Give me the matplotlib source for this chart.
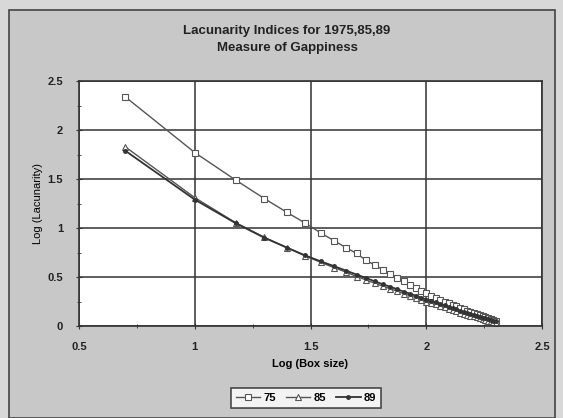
import numpy as np
import matplotlib
matplotlib.use("Agg")
import matplotlib.pyplot as plt
from matplotlib.patches import Rectangle
from matplotlib.ticker import MultipleLocator

plt.rcParams['font.family'] = ['Liberation Sans', 'DejaVu Sans']

# box sizes (pixels) and log lacunarity
box_sizes = [5, 10, 15, 20, 25, 30, 35, 40, 45, 50,
             55, 60, 65, 70, 75, 80, 85, 90, 95, 100,
             105, 110, 115, 120, 125, 130, 135, 140, 145, 150,
             155, 160, 165, 170, 175, 180, 185, 190, 195, 200]

lac_75 = [2.34, 1.77, 1.49, 1.30, 1.16, 1.05, 0.95, 0.87, 0.80, 0.74,
          0.67, 0.62, 0.575, 0.53, 0.49, 0.455, 0.42, 0.39, 0.36, 0.335,
          0.31, 0.29, 0.27, 0.25, 0.232, 0.215, 0.199, 0.184, 0.17, 0.156,
          0.143, 0.131, 0.119, 0.108, 0.097, 0.087, 0.077, 0.068, 0.059, 0.05]

lac_85 = [1.83, 1.31, 1.055, 0.905, 0.80, 0.715, 0.65, 0.595, 0.55, 0.505,
          0.47, 0.435, 0.405, 0.38, 0.355, 0.33, 0.31, 0.29, 0.27, 0.25,
          0.235, 0.22, 0.205, 0.19, 0.175, 0.16, 0.15, 0.137, 0.126, 0.116,
          0.106, 0.097, 0.088, 0.079, 0.07, 0.062, 0.054, 0.046, 0.039, 0.032]

lac_89 = [1.79, 1.29, 1.05, 0.90, 0.80, 0.72, 0.66, 0.61, 0.565, 0.525,
          0.49, 0.455, 0.425, 0.40, 0.375, 0.35, 0.33, 0.31, 0.29, 0.27,
          0.255, 0.24, 0.225, 0.21, 0.195, 0.18, 0.17, 0.155, 0.145, 0.135,
          0.125, 0.115, 0.105, 0.095, 0.085, 0.077, 0.069, 0.061, 0.054, 0.047]

series_names = ["75", "85", "89"]

W, H = 563, 418
fig = plt.figure(figsize=(W / 100, H / 100), dpi=100)
fig.patch.set_facecolor("#d8d8d8")

# grey chart area with a thin frame, like the old spreadsheet chart
fig.patches.append(Rectangle((9 / W, 0), 546 / W, 1 - 10 / H,
                             transform=fig.transFigure, facecolor="#c8c8c8",
                             edgecolor="#444444", lw=1.2, zorder=-5))

ax = fig.add_axes([79 / W, 1 - 326 / H, 463 / W, 245 / H])
ax.set_zorder(2)
ax.set_facecolor("white")

logx = np.log10(box_sizes)
ax.plot(logx, lac_75, color="#555555", lw=1.0, marker="s", ms=4,
        mfc="white", mec="#555555", mew=0.8, label=series_names[0])
ax.plot(logx, lac_85, color="#555555", lw=1.0, marker="^", ms=4.5,
        mfc="white", mec="#555555", mew=0.8, label=series_names[1])
ax.plot(logx, lac_89, color="#333333", lw=1.3, marker="o", ms=2.5,
        mfc="#333333", mec="#333333", label=series_names[2])

ax.set_xlim(0.5, 2.5)
ax.set_ylim(0, 2.5)
ax.xaxis.set_minor_locator(MultipleLocator(0.25))
ax.yaxis.set_minor_locator(MultipleLocator(0.25))
ax.set_xticks([0.5, 1, 1.5, 2, 2.5], ["0.5", "1", "1.5", "2", "2.5"])
ax.set_yticks([0, 0.5, 1, 1.5, 2, 2.5], ["0", "0.5", "1", "1.5", "2", "2.5"])
ax.grid(True, which="major", color="#333333", lw=1.1)
ax.set_axisbelow(True)
for s in ax.spines.values():
    s.set_color("#333333")
    s.set_linewidth(1.2)
ax.tick_params(which="both", direction="inout", color="#333333")
ax.tick_params(which="major", length=5, labelsize=8, pad=9)
ax.tick_params(which="minor", length=3)
for lab in ax.get_xticklabels() + ax.get_yticklabels():
    lab.set_fontweight("bold")
    lab.set_color("#222222")

ax.set_xlabel("Log (Box size)", fontsize=8, fontweight="bold", labelpad=5)
ax.set_ylabel("Log (Lacunarity)", fontsize=8, labelpad=3)

fig.text(287 / W, 1 - 31 / H, "Lacunarity Indices for 1975,85,89",
         ha="center", va="center", fontsize=9.5, fontweight="bold", color="#222222")
fig.text(287 / W, 1 - 48 / H, "Measure of Gappiness",
         ha="center", va="center", fontsize=9.5, fontweight="bold", color="#222222")

leg = fig.legend(loc="center", bbox_to_anchor=(306 / W, 1 - 398 / H), ncol=3,
                 fontsize=8, frameon=True, fancybox=False, handlelength=2.2,
                 handletextpad=0.3, columnspacing=0.9, borderpad=0.45)
leg.get_frame().set_edgecolor("#222222")
leg.get_frame().set_linewidth(1.2)
for t in leg.get_texts():
    t.set_fontweight("bold")

fig.savefig("out.png", dpi=100, facecolor=fig.get_facecolor())
